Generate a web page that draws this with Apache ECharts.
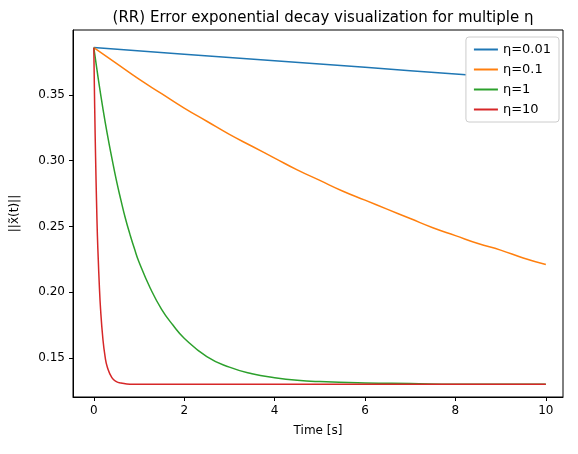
<!DOCTYPE html>
<html><head><meta charset="utf-8">
<script src="https://cdn.jsdelivr.net/npm/echarts@6/dist/echarts.min.js"></script>
<style>html,body{margin:0;padding:0;background:#fff}#c{width:578px;height:454px}</style>
</head><body><div id="c"></div>
<script>
const seriesNames = ['η=0.01','η=0.1','η=1','η=10'];
const colors = ['#1f77b4','#ff7f0e','#2ca02c','#d62728'];
const t001 = [0,2,4,6,8,10];
const v001 = [0.386,0.381,0.376,0.371,0.366,0.361];
const t01 = [0,0.5,1,1.5,2,2.5,3,3.5,4,4.5,5,5.5,6,6.5,7,7.5,8,8.5,9,9.5,10];
const v01 = [0.386,0.374,0.362,0.351,0.340,0.330,0.320,0.311,0.302,0.293,0.285,0.277,0.270,0.263,0.256,0.249,0.243,0.237,0.232,0.226,0.221];
const t1 = [0,0.1,0.2,0.3,0.4,0.5,0.6,0.7,0.8,0.9,1,1.25,1.5,1.75,2,2.5,3,3.5,4,4.5,5,6,7,8,9,10];
const v1 = [0.386,0.362,0.340,0.320,0.302,0.285,0.270,0.256,0.244,0.233,0.223,0.203,0.187,0.175,0.165,0.151,0.143,0.138,0.135,0.133,0.132,0.131,0.1305,0.130,0.130,0.130];
const t10 = [0,0.02,0.04,0.06,0.08,0.1,0.12,0.15,0.2,0.25,0.3,0.4,0.5,0.6,0.8,1,2,4,6,8,10];
const v10 = [0.386,0.340,0.302,0.270,0.243,0.224,0.207,0.187,0.165,0.151,0.143,0.135,0.132,0.131,0.130,0.130,0.130,0.130,0.130,0.130,0.130];
const xTicks = [0,2,4,6,8,10];
const yTicks = [0.15,0.20,0.25,0.30,0.35];
const pairs = (t,v)=>t.map((x,i)=>[x,v[i]]);
const data = [pairs(t001,v001),pairs(t01,v01),pairs(t1,v1),pairs(t10,v10)];
const ch = echarts.init(document.getElementById('c'));
const font = 'DejaVu Sans';
ch.setOption({
  animation:false,
  textStyle:{fontFamily:font},
  title:{text:'(RR) Error exponential decay visualization for multiple η',left:318,top:6,textAlign:'center',textStyle:{fontFamily:font,fontSize:15,fontWeight:'normal',color:'#000'}},
  grid:{left:73,right:15,top:30,bottom:57,show:true,borderColor:'#000',borderWidth:1},
  legend:{right:19,top:37,orient:'vertical',itemWidth:24,itemHeight:2,itemGap:7,icon:'rect',
    backgroundColor:'#fff',borderColor:'#ccc',borderWidth:1,borderRadius:3,padding:[6,8],
    textStyle:{fontFamily:font,fontSize:13,color:'#000'},data:seriesNames},
  xAxis:{type:'value',min:-0.46,max:10.38,name:'Time [s]',nameLocation:'middle',nameGap:28,
    nameTextStyle:{fontFamily:font,fontSize:12,color:'#000'},
    axisLine:{onZero:false,lineStyle:{color:'#000'}},splitLine:{show:false},
    axisTick:{customValues:xTicks,length:4,inside:false,lineStyle:{color:'#000'}},
    axisLabel:{customValues:xTicks,color:'#000',fontSize:12,fontFamily:font}},
  yAxis:{type:'value',min:0.1203,max:0.3994,name:'||x̃(t)||',nameLocation:'middle',nameGap:52,nameRotate:90,
    nameTextStyle:{fontFamily:font,fontSize:12,color:'#000'},
    axisLine:{show:true,onZero:false,lineStyle:{color:'#000'}},splitLine:{show:false},
    axisTick:{show:true,customValues:yTicks,length:4,lineStyle:{color:'#000'}},
    axisLabel:{customValues:yTicks,color:'#000',fontSize:12,fontFamily:font,formatter:v=>v.toFixed(2)}},
  series:data.map((d,i)=>({name:seriesNames[i],type:'line',data:d,smooth:0.5,showSymbol:false,
    lineStyle:{width:1.5,color:colors[i]},itemStyle:{color:colors[i]}}))
});
</script></body></html>
